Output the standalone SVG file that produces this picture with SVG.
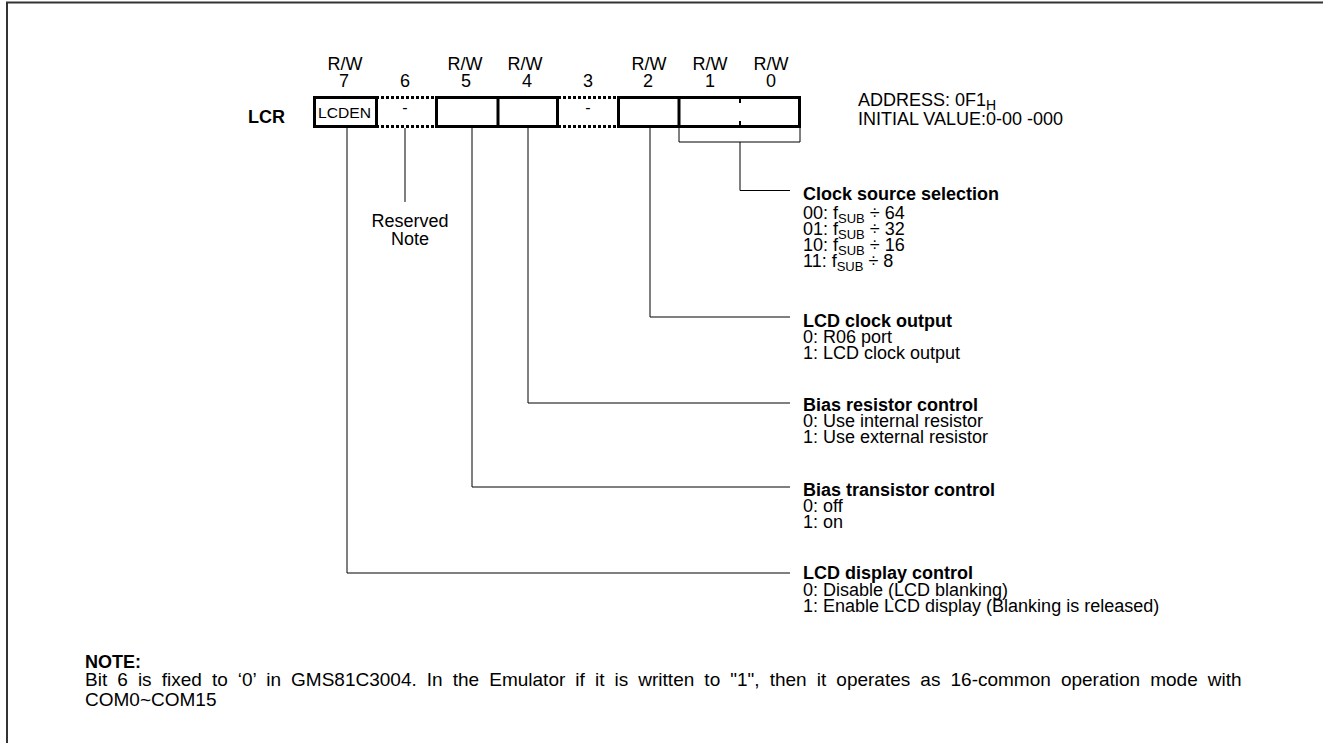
<svg xmlns="http://www.w3.org/2000/svg" width="1323" height="743" viewBox="0 0 1323 743">
<style>
text{font-family:"Liberation Sans",Arial,sans-serif;fill:#000;font-size:18px}
.b{font-weight:bold}
.c{text-anchor:middle}
.sub{font-size:13px}
.box{fill:none;stroke:#000;stroke-width:3}
.dot{fill:none;stroke:#000;stroke-width:3;stroke-dasharray:3 2}
.con{fill:none;stroke:#000;stroke-width:1}
</style>
<rect width="1323" height="743" fill="#fff"/>
<path d="M7 743V2.5H1323" fill="none" stroke="#333" stroke-width="2"/>

<g id="register">
<text class="b" x="285" y="123" text-anchor="end">LCR</text>
<g id="bit-labels">
<text x="345" y="70" class="c">R/W</text><text x="344" y="87" class="c">7</text>
<text x="405" y="87" class="c">6</text>
<text x="465" y="70" class="c">R/W</text><text x="466" y="87" class="c">5</text>
<text x="525" y="70" class="c">R/W</text><text x="527" y="87" class="c">4</text>
<text x="588" y="87" class="c">3</text>
<text x="649" y="70" class="c">R/W</text><text x="648" y="87" class="c">2</text>
<text x="710" y="70" class="c">R/W</text><text x="710" y="87" class="c">1</text>
<text x="771" y="70" class="c">R/W</text><text x="771" y="87" class="c">0</text>
</g>
<g id="bit7"><rect class="box" x="314.5" y="97.5" width="62" height="29"/>
<text x="318" y="118" textLength="53" lengthAdjust="spacingAndGlyphs" style="font-size:15px">LCDEN</text></g>
<g id="bit6"><path class="dot" d="M376 97.5H436M376 126.5H436"/><text x="405" y="113" class="c" style="font-size:16px">-</text></g>
<g id="bit5-4"><rect class="box" x="436.5" y="97.5" width="121" height="29"/><path class="box" d="M498 97.5V126.5"/></g>
<g id="bit3"><path class="dot" d="M558 97.5H618M558 126.5H618"/><text x="588" y="113" class="c" style="font-size:16px">-</text></g>
<g id="bit2-0"><rect class="box" x="618.5" y="97.5" width="181" height="29"/><path class="box" d="M679 97.5V126.5"/>
<path d="M740 99V103M740 121V125" stroke="#000" stroke-width="2"/></g>
</g>

<g id="connectors">
<path class="con" d="M347 128V573H790"/>
<path class="con" d="M405 128V202"/>
<path class="con" d="M472 128V487H790"/>
<path class="con" d="M528 128V403H790"/>
<path class="con" d="M650 128V317H790"/>
<path class="con" d="M679 128V142H800V128M740 142V190.5H790"/>
</g>

<g id="reserved"><text x="410" y="227" class="c">Reserved</text><text x="410" y="245" class="c">Note</text></g>

<g id="address">
<text x="858" y="106">ADDRESS: 0F1<tspan dy="4" style="font-size:14px">H</tspan></text>
<text x="858" y="125">INITIAL VALUE:0-00 -000</text>
</g>

<g id="clock-source">
<text class="b" x="803" y="200">Clock source selection</text>
<text x="803" y="219">00: f<tspan class="sub" dy="4">SUB</tspan><tspan dy="-4"> ÷ 64</tspan></text>
<text x="803" y="235">01: f<tspan class="sub" dy="4">SUB</tspan><tspan dy="-4"> ÷ 32</tspan></text>
<text x="803" y="251">10: f<tspan class="sub" dy="4">SUB</tspan><tspan dy="-4"> ÷ 16</tspan></text>
<text x="803" y="267">11: f<tspan class="sub" dy="4">SUB</tspan><tspan dy="-4"> ÷ 8</tspan></text>
</g>
<g id="lcd-clock">
<text class="b" x="803" y="327">LCD clock output</text>
<text x="803" y="343">0: R06 port</text>
<text x="803" y="359">1: LCD clock output</text>
</g>
<g id="bias-resistor">
<text class="b" x="803" y="411">Bias resistor control</text>
<text x="803" y="427">0: Use internal resistor</text>
<text x="803" y="443">1: Use external resistor</text>
</g>
<g id="bias-transistor">
<text class="b" x="803" y="496">Bias transistor control</text>
<text x="803" y="512">0: off</text>
<text x="803" y="528">1: on</text>
</g>
<g id="lcd-display">
<text class="b" x="803" y="579">LCD display control</text>
<text x="803" y="596">0: Disable (LCD blanking)</text>
<text x="803" y="612">1: Enable LCD display (Blanking is released)</text>
</g>

<g id="note">
<text class="b" x="85" y="668">NOTE:</text>
<text x="85" y="686" style="font-size:19px;word-spacing:4.8px">Bit 6 is fixed to ‘0’ in GMS81C3004. In the Emulator if it is written to "1", then it operates as 16-common operation mode with</text>
<text x="85" y="706" style="font-size:19px">COM0~COM15</text>
</g>
</svg>
